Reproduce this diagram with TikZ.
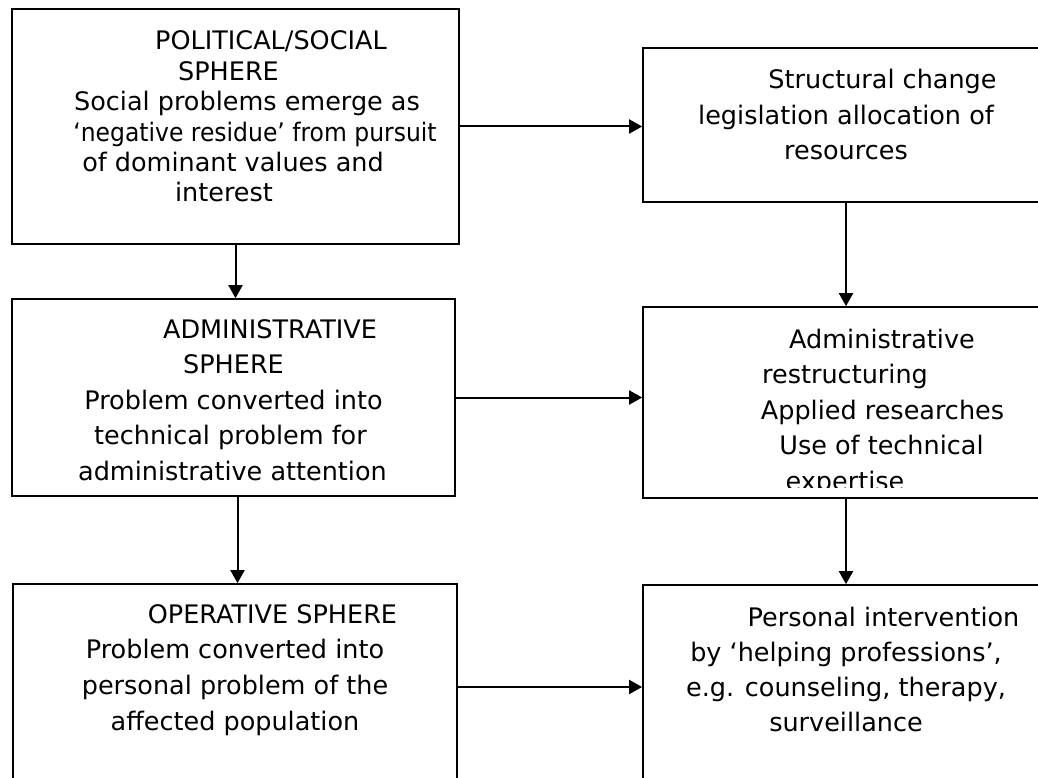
\documentclass[tikz,border=0pt]{standalone}
\usepackage{fontspec}
\usepackage{graphicx}
\setmainfont{DejaVu Sans}
\usetikzlibrary{arrows.meta}
% shift one centred line sideways without changing its width
\newcommand\shiftln[2]{\kern#1pt\relax#2\kern-#1pt\relax}
\begin{document}
\begin{tikzpicture}[x=1pt,y=-1pt,
  box/.style={draw=black,line width=1.7pt,inner sep=0pt},
  txt/.style={inner sep=0pt,anchor=base,font=\fontsize{25.5}{35.5}\selectfont},
  tight/.style={font=\fontsize{25.5}{30.4}\selectfont},
  flow/.style={draw=black,line width=2pt,-{Triangle[length=13pt,width=14pt]}}]
\useasboundingbox (0,0) rectangle (1038,778);
\clip (0,0) rectangle (1038,778);
\fill[white] (0,0) rectangle (1038,778);

% boxes
\node[box,minimum width=447pt,minimum height=235pt] (b1) at (235.5,126.5) {};
\node[box,minimum width=406pt,minimum height=154pt] (b2) at (846,125) {};
\node[box,minimum width=443pt,minimum height=197pt] (b3) at (233.5,397.5) {};
\node[box,minimum width=406pt,minimum height=191pt] (b4) at (846,402.5) {};
\node[box,minimum width=444pt,minimum height=206pt] (b5) at (235,687) {};
\node[box,minimum width=406pt,minimum height=206pt] (b6) at (846,688) {};

% texts
\node[txt,tight] (t1) at (235.5,50) {\begin{tabular}[t]{@{}c@{}}
\shiftln{35.5}{POLITICAL/SOCIAL}\\
\shiftln{-7}{SPHERE}\\
\shiftln{11.5}{Social problems emerge as}\\
\shiftln{19.5}{\scalebox{0.92}[1]{‘negative residue’ from pursuit}}\\
\shiftln{-2.5}{of dominant values and}\\
\shiftln{-11.5}{interest}
\end{tabular}};

\node[txt] (t2) at (846,89) {\begin{tabular}[t]{@{}c@{}}
\shiftln{36.5}{Structural change}\\
legislation allocation of\\
resources
\end{tabular}};

\node[txt] (t3) at (233.5,338) {\begin{tabular}[t]{@{}c@{}}
\shiftln{36.5}{ADMINISTRATIVE}\\
SPHERE\\
Problem converted into\\
\shiftln{-3}{technical problem for}\\
\shiftln{-1}{administrative attention}
\end{tabular}};

\begin{scope}
\clip (b4.north west) rectangle ([yshift=11pt]b4.south east);
\node[txt] (t4) at (846,348) {\begin{tabular}[t]{@{}c@{}}
\shiftln{36}{Administrative}\\
\shiftln{-1}{restructuring}\\
\shiftln{36.5}{Applied researches}\\
\shiftln{35.5}{Use of technical}\\
\shiftln{-1}{expertise}
\end{tabular}};
\end{scope}

\node[txt,font=\fontsize{25.5}{35.7}\selectfont] (t5) at (235,623) {\begin{tabular}[t]{@{}c@{}}
\shiftln{37.5}{OPERATIVE SPHERE}\\
Problem converted into\\
personal problem of the\\
affected population
\end{tabular}};

\node[txt,font=\fontsize{25.5}{35.3}\selectfont] (t6) at (846,626) {\begin{tabular}[t]{@{}c@{}}
\shiftln{37.5}{Personal intervention}\\
by ‘helping professions’,\\
e.g. counseling, therapy,\\
surveillance
\end{tabular}};

% connectors
\draw[flow] (b1.east) -- (b1.east -| b2.west);
\draw[flow] (b1.south) -- (b1.south |- b3.north);
\draw[flow] (b2.south) -- (b4.north);
\draw[flow] (b3.east) -- (b3.east -| b4.west);
\draw[flow] ([xshift=4pt]b3.south) -- ([xshift=4pt]b3.south |- b5.north);
\draw[flow] (b4.south) -- (b6.north);
\draw[flow] (b5.east) -- (b5.east -| b6.west);
\end{tikzpicture}
\end{document}
